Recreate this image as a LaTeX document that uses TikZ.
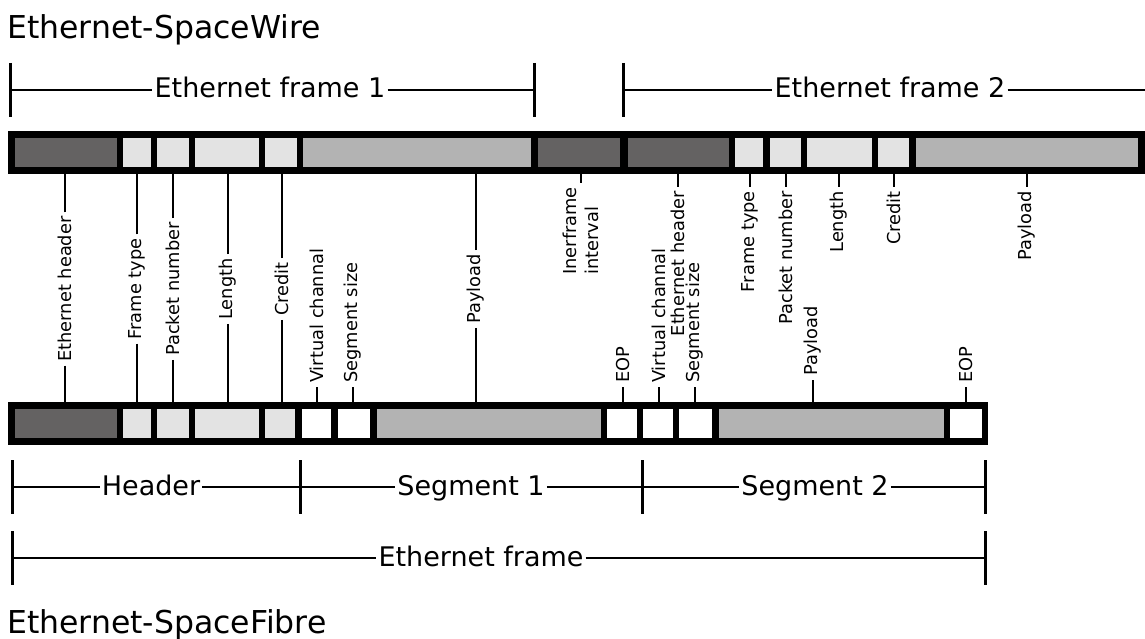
\documentclass[tikz,border=0pt]{standalone}
\usepackage{fontspec}
\setmainfont{DejaVu Sans}
\usetikzlibrary{calc}
\definecolor{darkc}{RGB}{100,98,98}
\definecolor{lightc}{RGB}{227,227,227}
\definecolor{midc}{RGB}{179,179,179}
\newcommand\lblfont{\fontsize{17.8}{22}\selectfont}
\newcommand\brfont{\fontsize{27}{31}\selectfont}
\newcommand\ttlfont{\fontsize{31.5}{37}\selectfont}
\newcommand\mkcell[6]{\node[cellbox,fill=#6,minimum width={(#3-#2)*1pt},minimum height={(#5-#4)*1pt}] (#1) at ({(#2+#3)/2},{(#4+#5)/2}) {};}
\tikzset{
  cellbox/.style={rectangle,inner sep=0pt,outer sep=0pt,draw=none},
  vlab/.style={rotate=90,font=\lblfont,inner sep=4pt},
  lead/.style={line width=2pt},
  brlab/.style={font=\brfont,inner sep=2pt,text height=21pt,text depth=5pt},
  brline/.style={line width=2.5pt},
  brtick/.style={line width=3pt},
  ttl/.style={font=\ttlfont,inner sep=0pt,anchor=base west}
}
\begin{document}
\begin{tikzpicture}[x=1pt,y=-1pt]
\useasboundingbox (0,0) rectangle (1145,639);
\fill[white] (0,0) rectangle (1145,639);

% titles
\node[ttl] (t1) at (7,39) {Ethernet-SpaceWire};
\node[ttl] (t2) at (7,633) {Ethernet-SpaceFibre};

% top bar
\mkcell{topbar}{8}{1145}{131}{174}{black}
\mkcell{T1}{15}{117}{138}{167}{darkc}
\mkcell{T2}{123}{151}{138}{167}{lightc}
\mkcell{T3}{157}{189}{138}{167}{lightc}
\mkcell{T4}{195}{259}{138}{167}{lightc}
\mkcell{T5}{265}{297}{138}{167}{lightc}
\mkcell{T6}{303}{531}{138}{167}{midc}
\mkcell{T7}{538}{620}{138}{167}{darkc}
\mkcell{T8}{628}{729}{138}{167}{darkc}
\mkcell{T9}{735}{763}{138}{167}{lightc}
\mkcell{T10}{770}{801}{138}{167}{lightc}
\mkcell{T11}{807}{872}{138}{167}{lightc}
\mkcell{T12}{878}{909}{138}{167}{lightc}
\mkcell{T13}{916}{1138}{138}{167}{midc}

% bottom bar
\mkcell{botbar}{8}{988}{402}{445}{black}
\mkcell{B1}{15}{117}{409}{438}{darkc}
\mkcell{B2}{123}{151}{409}{438}{lightc}
\mkcell{B3}{157}{189}{409}{438}{lightc}
\mkcell{B4}{195}{259}{409}{438}{lightc}
\mkcell{B5}{265}{295}{409}{438}{lightc}
\mkcell{B6}{302}{331}{409}{438}{white}
\mkcell{B7}{338}{370}{409}{438}{white}
\mkcell{B8}{377}{601}{409}{438}{midc}
\mkcell{B9}{607}{637}{409}{438}{white}
\mkcell{B10}{643}{673}{409}{438}{white}
\mkcell{B11}{679}{712}{409}{438}{white}
\mkcell{B12}{719}{944}{409}{438}{midc}
\mkcell{B13}{950}{982}{409}{438}{white}

% shared labels (top bar to bottom bar)
\foreach \nm/\xx/\tx in {s1/65/Ethernet header, s2/137/Frame type, s3/173/Packet number, s4/228/Length, s5/282/Credit, s6/476/Payload}{
  \node[vlab] (\nm) at (\xx,289) {\tx};
  \draw[lead] (\nm.east) -- (\nm.east |- topbar.south);
  \draw[lead] (\nm.west) -- (\nm.west |- botbar.north);
}

% top-only labels
\foreach \nm/\xx/\tx in {u1/678/Ethernet header, u2/750/Frame type, u3/786/Packet number, u4/839/Length, u5/894/Credit, u6/1027/Payload}{
  \node[vlab,anchor=east] (\nm) at (\xx,187) {\tx};
  \draw[lead] (\nm.east) -- (\nm.east |- topbar.south);
}
\node[vlab,anchor=east,align=left] (u7) at (581,183) {Inerframe\\interval};
\draw[lead] (u7.east) -- (u7.east |- topbar.south);

% bottom-only labels
\foreach \nm/\xx/\yy/\tx in {d1/317/387/Virtual channal, d2/353/387/Segment size, d3/623/387/EOP, d4/659/387/Virtual channal, d5/695/387/Segment size, d6/813/380/Payload, d7/966/387/EOP}{
  \node[vlab,anchor=west] (\nm) at (\xx,\yy) {\tx};
  \draw[lead] (\nm.west) -- (\nm.west |- botbar.north);
}

% brackets: top
\coordinate (f1a) at (10,90);
\coordinate (f1b) at (534,90);
\coordinate (f2a) at (623,90);
\coordinate (f2b) at (1145,90);
\node[brlab] (f1) at (270,90) {Ethernet frame 1};
\node[brlab] (f2) at (890,90) {Ethernet frame 2};
\draw[brline] (f1a) -- (f1.west);
\draw[brline] (f1.east) -- (f1b);
\draw[brline] (f2a) -- (f2.west);
\draw[brline] (f2.east) -- (f2b);
\foreach \c in {f1a,f1b,f2a}{
  \draw[brtick] ([yshift=27pt]\c) -- ([yshift=-27pt]\c);
}

% brackets: bottom segments
\coordinate (h0) at (12,487);
\coordinate (h1) at (300,487);
\coordinate (h2) at (642,487);
\coordinate (h3) at (985,487);
\node[brlab] (hd) at (151,487) {Header};
\node[brlab] (sg1) at (471,487) {Segment 1};
\node[brlab] (sg2) at (815,487) {Segment 2};
\draw[brline] (h0) -- (hd.west);
\draw[brline] (hd.east) -- (h1);
\draw[brline] (h1) -- (sg1.west);
\draw[brline] (sg1.east) -- (h2);
\draw[brline] (h2) -- (sg2.west);
\draw[brline] (sg2.east) -- (h3);
\foreach \c in {h0,h1,h2,h3}{
  \draw[brtick] ([yshift=27pt]\c) -- ([yshift=-27pt]\c);
}

% bracket: whole Ethernet frame
\coordinate (e0) at (12,558);
\coordinate (e1) at (985,558);
\node[brlab] (ef) at (481,558) {Ethernet frame};
\draw[brline] (e0) -- (ef.west);
\draw[brline] (ef.east) -- (e1);
\foreach \c in {e0,e1}{
  \draw[brtick] ([yshift=27pt]\c) -- ([yshift=-27pt]\c);
}
\end{tikzpicture}
\end{document}
